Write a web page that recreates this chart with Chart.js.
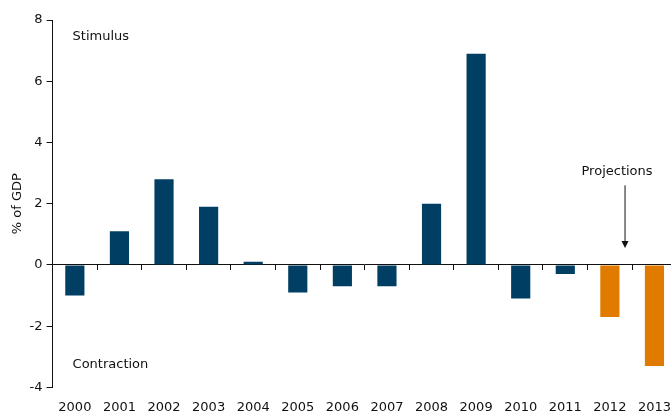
<!DOCTYPE html>
<html>
<head>
<meta charset="utf-8">
<script src="https://cdn.jsdelivr.net/npm/chart.js@4/dist/chart.umd.min.js"></script>
<style>
  html, body { margin: 0; padding: 0; background: #fff; overflow: hidden; }
  #wrap { width: 683px; height: 427px; }
</style>
</head>
<body>
<div id="wrap"><canvas id="budgetChart"></canvas></div>
<script>
const years = ["2000", "2001", "2002", "2003", "2004", "2005", "2006", "2007", "2008", "2009", "2010", "2011", "2012", "2013"];
const impulse = [-1.0, 1.1, 2.8, 1.9, 0.1, -0.9, -0.7, -0.7, 2.0, 6.9, -1.1, -0.3, -1.7, -3.3];
const projectedFrom = "2012";
const yTicks = [-4, -2, 0, 2, 4, 6, 8];

const BLUE = "#003f63";
const ORANGE = "#e07b00";
const FONT = "'DejaVu Sans', Verdana, sans-serif";

const barColors = years.map((y) => (Number(y) >= Number(projectedFrom) ? ORANGE : BLUE));

// text labels + projection arrow
const notes = {
  id: "notes",
  afterDatasetsDraw(chart) {
    const { ctx, scales } = chart;
    const x = scales.x, y = scales.y;
    const step = x.getPixelForValue(1) - x.getPixelForValue(0);
    ctx.save();
    ctx.fillStyle = "#111";
    ctx.font = "13px " + FONT;
    ctx.textBaseline = "middle";
    ctx.textAlign = "left";
    ctx.fillText("Stimulus", x.left + 20, y.getPixelForValue(7.45));
    ctx.fillText("Contraction", x.left + 20, y.getPixelForValue(-3.25));

    const ax = x.getPixelForValue(years.indexOf(projectedFrom)) + step * 0.34;
    ctx.textAlign = "center";
    ctx.fillText("Projections", ax - 8, y.getPixelForValue(3.05));
    const top = y.getPixelForValue(2.6), bot = y.getPixelForValue(0.55);
    ctx.strokeStyle = "#111";
    ctx.lineWidth = 1;
    ctx.beginPath();
    ctx.moveTo(ax, top);
    ctx.lineTo(ax, bot - 5);
    ctx.stroke();
    ctx.beginPath();
    ctx.moveTo(ax - 3.5, bot - 7);
    ctx.lineTo(ax + 3.5, bot - 7);
    ctx.lineTo(ax, bot);
    ctx.closePath();
    ctx.fill();
    ctx.restore();
  },
};

new Chart(document.getElementById("budgetChart"), {
  type: "bar",
  data: {
    labels: years,
    datasets: [
      {
        data: impulse,
        backgroundColor: barColors,
        borderWidth: 0,
        barPercentage: 0.43,
        categoryPercentage: 1,
        xAxisID: "x",
      },
    ],
  },
  options: {
    responsive: true,
    maintainAspectRatio: false,
    animation: false,
    layout: { padding: { top: 20, right: 0, bottom: 0, left: 2 } },
    plugins: { legend: { display: false }, tooltip: { enabled: false } },
    scales: {
      x: {
        position: "bottom",
        grid: { display: false, drawTicks: false },
        border: { display: false },
        ticks: { color: "#111", font: { family: FONT, size: 13 }, padding: 12, maxRotation: 0, autoSkip: false },
      },
      x0: {
        type: "category",
        labels: years,
        position: { y: 0 },
        offset: true,
        grid: { offset: true, drawOnChartArea: false, drawTicks: true, tickLength: 5, color: "#111" },
        border: { display: true, color: "#111", width: 1 },
        ticks: { display: false },
      },
      y: {
        min: -4,
        max: 8,
        afterBuildTicks: (axis) => { axis.ticks = yTicks.map((v) => ({ value: v })); },
        grid: { drawOnChartArea: false, drawTicks: true, tickLength: 6, color: "#111" },
        border: { display: true, color: "#111", width: 1 },
        ticks: { color: "#111", font: { family: FONT, size: 13 }, padding: 4 },
        title: { display: true, text: "% of GDP", color: "#111", font: { family: FONT, size: 13 }, padding: { top: 8, bottom: 0 } },
      },
    },
  },
  plugins: [notes],
});
</script>
</body>
</html>
